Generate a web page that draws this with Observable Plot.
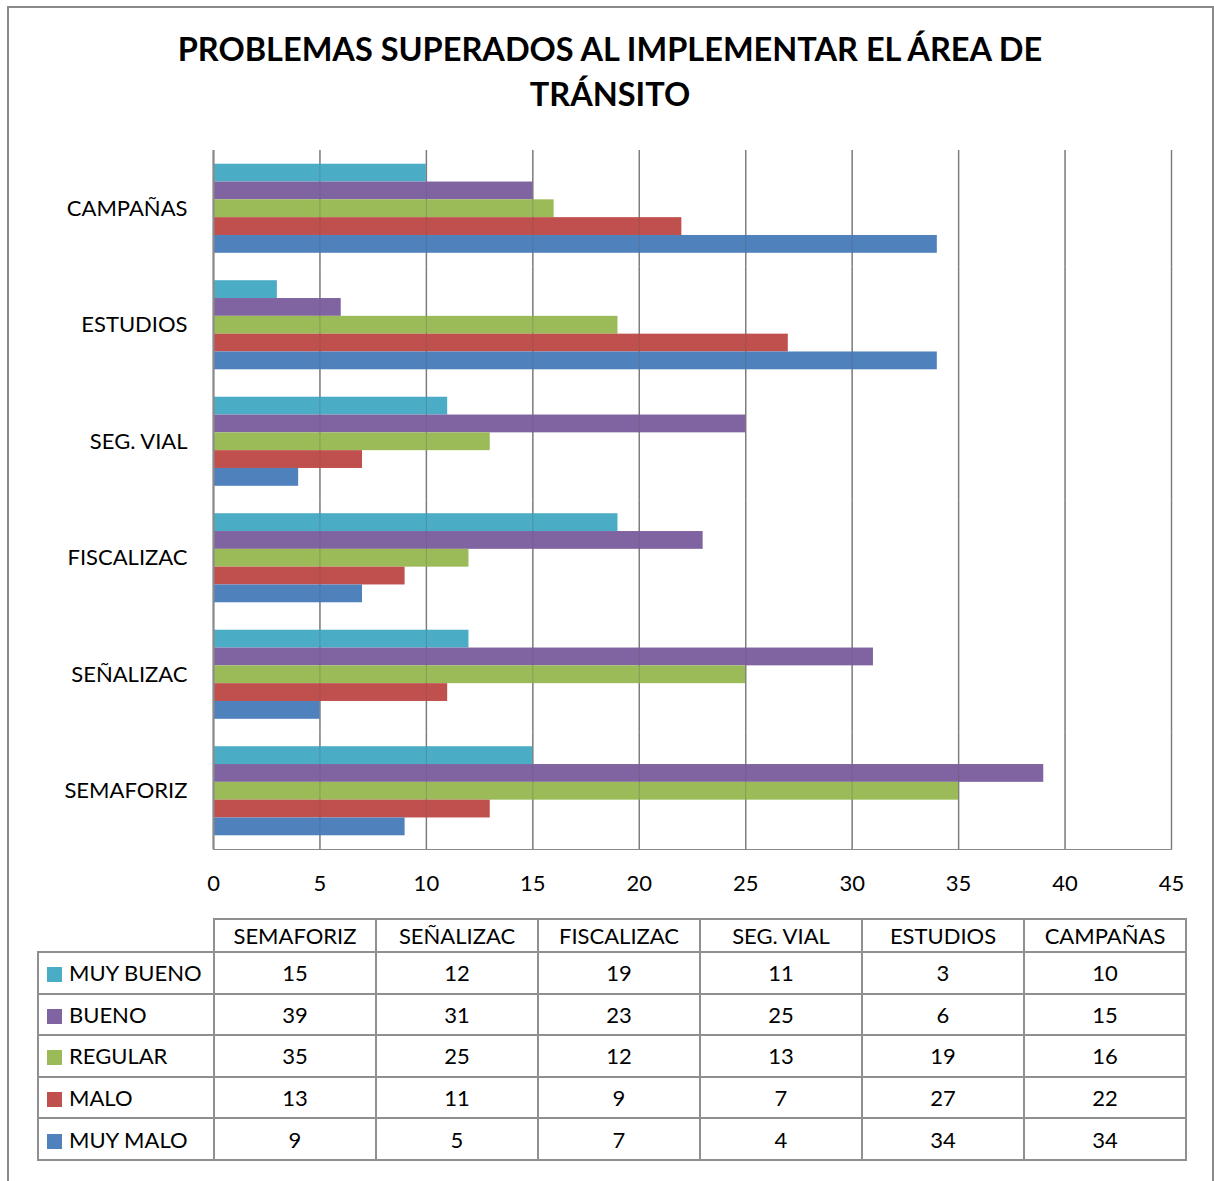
<!DOCTYPE html>
<html>
<head>
<meta charset="utf-8">
<script src="https://cdn.jsdelivr.net/npm/d3@7"></script>
<script src="https://cdn.jsdelivr.net/npm/@observablehq/plot@0.6"></script>
<style>
  html, body { margin: 0; padding: 0; background: #fff; }
  body { width: 1214px; height: 1181px; position: relative; overflow: hidden; font-family: Lato, "Open Sans", sans-serif; }
  #frame { position: absolute; left: 7px; top: 6px; width: 1207px; height: 1200px; border: 2px solid #8a8a8a; box-sizing: border-box; }
  #title { position: absolute; left: 7px; width: 1206px; top: 26px; text-align: center; font-weight: bold; font-size: 32.5px; line-height: 45px; color: #000; }
  #chart { position: absolute; left: 0; top: 0; }
  #chart svg text { fill: #000; }
  #tbl { position: absolute; left: 37px; top: 918px; border-collapse: collapse; table-layout: fixed; width: 1148px; font-size: 22px; color: #000; }
  #tbl td { border: 2px solid #8f8f8f; text-align: center; padding: 0; height: 39.6px; overflow: hidden; }
  #tbl tr.head td { height: 31px; }
  #tbl td.blank { border: none; border-bottom: 2px solid #8f8f8f; }
  #tbl td.lab { text-align: left; padding-left: 8px; white-space: nowrap; }
  #tbl .sw { display: inline-block; width: 15px; height: 15px; margin-right: 7px; vertical-align: -1px; }
</style>
</head>
<body>
<div id="frame"></div>
<div id="title">PROBLEMAS SUPERADOS AL IMPLEMENTAR EL ÁREA DE<br>TRÁNSITO</div>
<div id="chart"></div>
<table id="tbl"><colgroup><col style="width:176px"><col style="width:162px"><col style="width:162px"><col style="width:162px"><col style="width:162px"><col style="width:162px"><col style="width:162px"></colgroup><tbody id="tb"></tbody></table>
<script>
// Categories in table order (left to right)
const categories = ["SEMAFORIZ", "SEÑALIZAC", "FISCALIZAC", "SEG. VIAL", "ESTUDIOS", "CAMPAÑAS"];
// Series (top to bottom within each group)
const series = ["MUY BUENO", "BUENO", "REGULAR", "MALO", "MUY MALO"];
const colors = ["#4BACC6", "#8064A2", "#9BBB59", "#C0504D", "#4F81BD"];
// Values per series, in category order above
const muyBueno = [15, 12, 19, 11, 3, 10];
const bueno    = [39, 31, 23, 25, 6, 15];
const regular  = [35, 25, 12, 13, 19, 16];
const malo     = [13, 11, 9, 7, 27, 22];
const muyMalo  = [9, 5, 7, 4, 34, 34];
const xTicks = [0, 5, 10, 15, 20, 25, 30, 35, 40, 45];

const seriesValues = [muyBueno, bueno, regular, malo, muyMalo];
const rows = [];
series.forEach((s, i) => categories.forEach((c, j) => rows.push({series: s, cat: c, value: seriesValues[i][j]})));

const chart = Plot.plot({
  width: 1214,
  height: 910,
  marginLeft: 213,
  marginRight: 43,
  marginTop: 150,
  marginBottom: 61,
  style: {fontFamily: "Lato, 'Open Sans', sans-serif", fontSize: "22px", color: "#8a8a8a", background: "transparent", overflow: "visible"},
  x: {domain: [0, 45], ticks: xTicks, tickSize: 0, tickPadding: 26, line: true, label: null},
  y: {domain: series, axis: null, paddingInner: 0, paddingOuter: 0.77, round: false},
  fy: {domain: categories.slice().reverse(), padding: 0, round: false, tickSize: 0, tickPadding: 26, label: null},
  color: {domain: series, range: colors},
  marks: [
    Plot.ruleX(xTicks, {stroke: "#8a8a8a", strokeWidth: 1.5}),
    Plot.barX(rows, {x: "value", y: "series", fy: "cat", fill: "series"}),
    Plot.ruleX(xTicks, {stroke: "#555", strokeOpacity: 0.3, strokeWidth: 1}),
    Plot.ruleX([0], {stroke: "#8a8a8a", strokeWidth: 2})
  ]
});
document.getElementById("chart").appendChild(chart);

// Data table
const tb = document.getElementById("tb");
let html = '<tr class="head"><td class="blank"></td>' + categories.map(c => `<td>${c}</td>`).join("") + '</tr>';
series.forEach((s, i) => {
  html += `<tr><td class="lab"><span class="sw" style="background:${colors[i]}"></span>${s}</td>` +
    seriesValues[i].map(v => `<td>${v}</td>`).join("") + '</tr>';
});
tb.innerHTML = html;
</script>
</body>
</html>
